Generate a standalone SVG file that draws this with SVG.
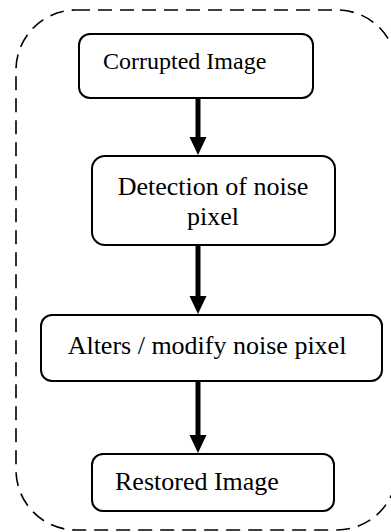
<svg xmlns="http://www.w3.org/2000/svg" width="391" height="532" viewBox="0 0 391 532">
  <style>
    .frame { fill: none; stroke: #000; stroke-width: 1.6; stroke-dasharray: 14 8; }
    .box { fill: #fff; stroke: #000; stroke-width: 2; }
    .label { font-family: "Liberation Serif", "Times New Roman", serif; font-size: 26px; fill: #000; }
    .small { font-size: 24px; }
    .flow { stroke: #000; stroke-width: 5; fill: none; }
    .tip { fill: #000; }
  </style>

  <!-- dashed enclosure -->
  <rect class="frame" x="16" y="10" width="381" height="520" rx="60" ry="60"/>

  <!-- connectors: shaft plus triangular head -->
  <g id="connectors">
    <line class="flow" x1="198" y1="98" x2="198" y2="138"/>
    <path class="tip" d="M189.5,137 L206.5,137 L198,155 Z"/>
    <line class="flow" x1="198" y1="245" x2="198" y2="297"/>
    <path class="tip" d="M189.5,296 L206.5,296 L198,314 Z"/>
    <line class="flow" x1="198" y1="381" x2="198" y2="436"/>
    <path class="tip" d="M189.5,435 L206.5,435 L198,453 Z"/>
  </g>

  <g id="corrupted-image">
    <rect class="box" x="79" y="34" width="234" height="64" rx="11"/>
    <text class="label small" x="103" y="69">Corrupted Image</text>
  </g>

  <g id="detection">
    <rect class="box" x="92" y="156" width="243" height="89" rx="13"/>
    <text class="label" x="213" y="195" text-anchor="middle">Detection of noise</text>
    <text class="label" x="213" y="225" text-anchor="middle">pixel</text>
  </g>

  <g id="modify">
    <rect class="box" x="41" y="315" width="341" height="66" rx="11"/>
    <text class="label" x="207" y="354" text-anchor="middle">Alters / modify noise pixel</text>
  </g>

  <g id="restored">
    <rect class="box" x="92" y="454" width="242" height="57" rx="11"/>
    <text class="label" x="115" y="490">Restored Image</text>
  </g>
</svg>
